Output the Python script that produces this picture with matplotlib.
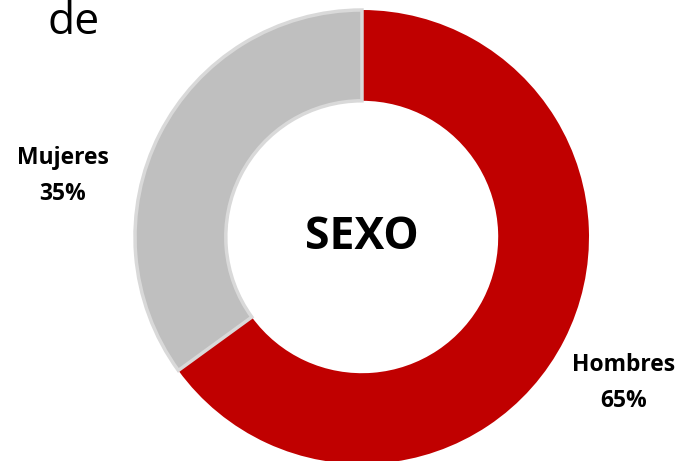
import matplotlib.pyplot as plt

labels = ['Hombres', 'Mujeres']
values = [65, 35]
colors = ['#C00000', '#BFBFBF']
edges = ['#C00000', '#D9D9D9']

plt.rcParams['font.family'] = ['Open Sans', 'DejaVu Sans']

fig = plt.figure(figsize=(6.84, 4.61), dpi=100)
ax = fig.add_axes([0, 0, 1, 1])

wedges, _ = ax.pie(values, colors=colors, startangle=90, counterclock=False,
                   radius=1.0, wedgeprops=dict(width=0.4, linewidth=2.5))
for w, ec in zip(wedges, edges):
    w.set_edgecolor(ec)
wedges[0].set_linewidth(0)

# center at pixel (362, 237), radius 227 px
r = 227.0
ax.set_xlim(-362 / r, (684 - 362) / r)
ax.set_ylim(-(461 - 237) / r, 237 / r)
ax.set_aspect('auto')
ax.axis('off')

ax.text(0, 0, 'SEXO', ha='center', va='center', fontsize=32, fontweight='bold')

ax.text((62.5 - 362) / r, (237 - 176) / r, f'{labels[1]}\n{values[1]}%', ha='center', va='center',
        fontsize=16.5, fontweight='bold', linespacing=1.65)
ax.text((624 - 362) / r, (237 - 383) / r, f'{labels[0]}\n{values[0]}%', ha='center', va='center',
        fontsize=16.5, fontweight='bold', linespacing=1.65)

fig.text(47 / 684, 1 - 34 / 461, 'de', fontsize=32, ha='left', va='baseline')

fig.savefig('out.png', dpi=100)
